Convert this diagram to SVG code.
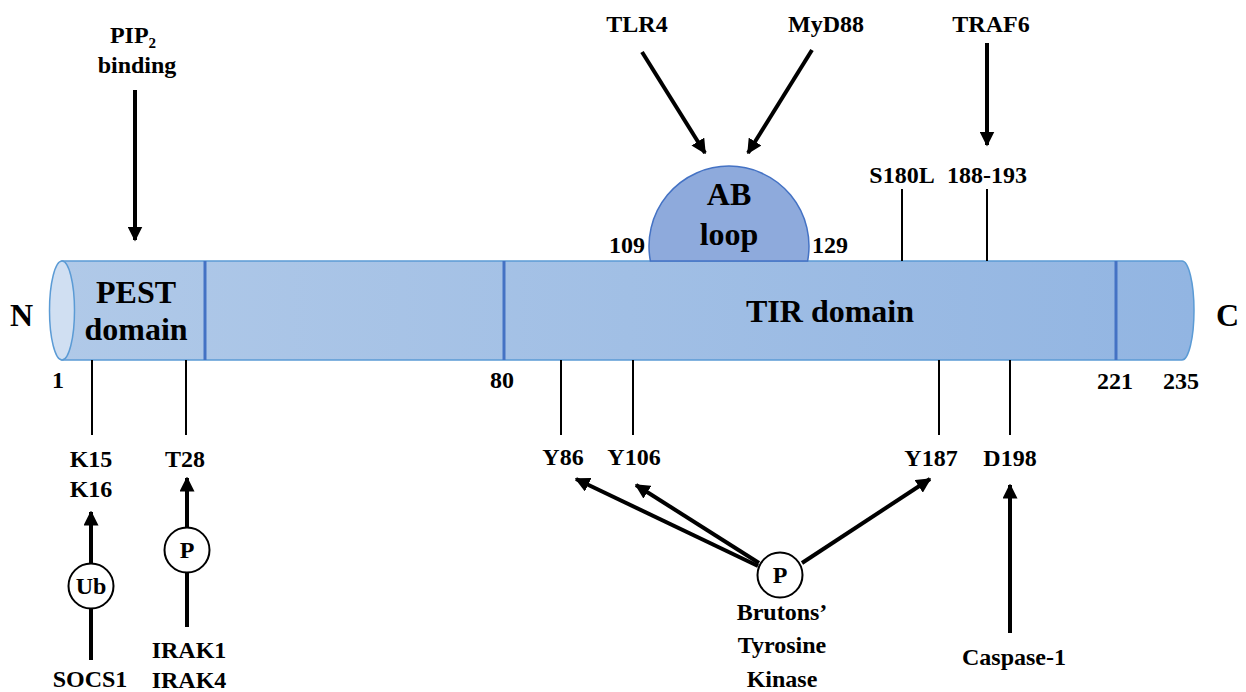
<svg xmlns="http://www.w3.org/2000/svg" width="1246" height="692" viewBox="0 0 1246 692">
  <defs>
    <linearGradient id="bodyFill" x1="0" y1="0" x2="1" y2="0">
      <stop offset="0" stop-color="#b0c9e8"/>
      <stop offset="1" stop-color="#92b5e2"/>
    </linearGradient>
    <marker id="head" viewBox="0 0 10 10" refX="9" refY="5" markerWidth="15" markerHeight="15" markerUnits="userSpaceOnUse" orient="auto">
      <path d="M0,0 L10,5 L0,10 Z" fill="#000"/>
    </marker>
    <style>
      text { font-family: "Liberation Serif", "Times New Roman", serif; font-weight: bold; fill: #000; }
      .big { font-size: 32px; }
      .sm { font-size: 24px; }
      .mid { text-anchor: middle; }
      .tick { stroke: #000; stroke-width: 2; fill: none; }
      .arrow { stroke: #000; stroke-width: 4; fill: none; marker-end: url(#head); }
      .line { stroke: #000; stroke-width: 4; fill: none; }
      .mod { fill: #fff; stroke: #000; stroke-width: 2; }
      .divider { stroke: #4472c4; stroke-width: 3; }
    </style>
  </defs>

  <!-- protein backbone drawn as a cylinder -->
  <g id="protein">
    <path d="M62,261 H1182 A12,49.5 0 0 1 1182,360 H62 Z" fill="url(#bodyFill)" stroke="#5b9bd5" stroke-width="1.5"/>
    <ellipse cx="62" cy="310.5" rx="12.5" ry="49.5" fill="#d0dff2" stroke="#5b9bd5" stroke-width="1.5"/>
    <line class="divider" x1="205" y1="261" x2="205" y2="360"/>
    <line class="divider" x1="504" y1="261" x2="504" y2="360"/>
    <line class="divider" x1="1116" y1="261" x2="1116" y2="360"/>
  </g>

  <!-- AB loop bulge on top of the TIR domain -->
  <g id="ab-loop">
    <path d="M650.4,261 A80,80 0 1 1 807.6,261 Z" fill="#8eaadc" stroke="#4472c4" stroke-width="1.5"/>
    <text class="big mid" x="729" y="205">AB</text>
    <text class="big mid" x="729" y="245">loop</text>
  </g>

  <!-- domain labels and termini -->
  <g id="pest-domain">
    <text class="big mid" x="136" y="303">PEST</text>
    <text class="big mid" x="136" y="340">domain</text>
  </g>
  <g id="tir-domain">
    <text class="big mid" x="830" y="322">TIR domain</text>
  </g>
  <g id="n-terminus"><text class="big" x="10" y="326">N</text></g>
  <g id="c-terminus"><text class="big" x="1216" y="326">C</text></g>

  <!-- residue numbering -->
  <g id="residue-numbers" class="sm">
    <text class="sm mid" x="58" y="388">1</text>
    <text class="sm mid" x="502" y="388">80</text>
    <text class="sm" x="645" y="253" text-anchor="end">109</text>
    <text class="sm" x="812" y="253">129</text>
    <text class="sm mid" x="1115" y="389">221</text>
    <text class="sm mid" x="1181" y="389">235</text>
  </g>

  <!-- residue ticks, interaction arrows and modification arrows -->
  <g id="connectors">
    <line class="tick" x1="902" y1="189" x2="902" y2="261"/>
    <line class="tick" x1="987" y1="189" x2="987" y2="261"/>
    <line class="tick" x1="92" y1="360" x2="92" y2="435"/>
    <line class="tick" x1="186" y1="360" x2="186" y2="435"/>
    <line class="tick" x1="561" y1="360" x2="561" y2="435"/>
    <line class="tick" x1="633" y1="360" x2="633" y2="435"/>
    <line class="tick" x1="939" y1="360" x2="939" y2="435"/>
    <line class="tick" x1="1010" y1="360" x2="1010" y2="435"/>

    <line class="arrow" x1="135" y1="90" x2="135" y2="240"/>
    <line class="arrow" x1="642" y1="52" x2="705" y2="153"/>
    <line class="arrow" x1="812" y1="50" x2="748" y2="153"/>
    <line class="arrow" x1="987" y1="43" x2="987" y2="145"/>

    <line class="line" x1="91" y1="660" x2="91" y2="608"/>
    <line class="arrow" x1="91" y1="563" x2="91" y2="512"/>
    <line class="line" x1="187" y1="627" x2="187" y2="573"/>
    <line class="arrow" x1="187" y1="528" x2="187" y2="478"/>

    <line class="arrow" x1="758" y1="566" x2="576" y2="479"/>
    <line class="arrow" x1="759" y1="563" x2="636" y2="485"/>
    <line class="arrow" x1="802" y1="563" x2="930" y2="479"/>

    <line class="arrow" x1="1010" y1="633" x2="1010" y2="485"/>
  </g>

  <!-- binding partners above the chain -->
  <g id="pip2">
    <text class="sm mid" x="133" y="43">PIP<tspan font-size="15" dy="5">2</tspan></text>
    <text class="sm mid" x="137" y="73">binding</text>
  </g>
  <g id="tlr4"><text class="sm mid" x="637" y="32">TLR4</text></g>
  <g id="myd88"><text class="sm mid" x="826" y="32">MyD88</text></g>
  <g id="traf6"><text class="sm mid" x="991" y="32">TRAF6</text></g>
  <g id="s180l"><text class="sm mid" x="902" y="183">S180L</text></g>
  <g id="site-188-193"><text class="sm mid" x="987" y="183">188-193</text></g>

  <!-- modified residues below the chain -->
  <g id="k15-k16">
    <text class="sm mid" x="91" y="467">K15</text>
    <text class="sm mid" x="91" y="497">K16</text>
  </g>
  <g id="t28"><text class="sm mid" x="185" y="467">T28</text></g>
  <g id="y86"><text class="sm mid" x="563" y="465">Y86</text></g>
  <g id="y106"><text class="sm mid" x="634" y="465">Y106</text></g>
  <g id="y187"><text class="sm mid" x="931" y="466">Y187</text></g>
  <g id="d198"><text class="sm mid" x="1010" y="466">D198</text></g>

  <!-- modifying enzymes -->
  <g id="ub">
    <circle class="mod" cx="91" cy="586" r="22.5"/>
    <text class="sm mid" x="91" y="594">Ub</text>
  </g>
  <g id="socs1"><text class="sm mid" x="90" y="687">SOCS1</text></g>
  <g id="p-irak">
    <circle class="mod" cx="187" cy="550" r="22.5"/>
    <text class="sm mid" x="187" y="558">P</text>
  </g>
  <g id="irak">
    <text class="sm mid" x="189" y="658">IRAK1</text>
    <text class="sm mid" x="189" y="688">IRAK4</text>
  </g>
  <g id="p-btk">
    <circle class="mod" cx="780" cy="575" r="22.5"/>
    <text class="sm mid" x="780" y="583">P</text>
  </g>
  <g id="btk">
    <text class="sm mid" x="782" y="620">Brutons’</text>
    <text class="sm mid" x="782" y="653">Tyrosine</text>
    <text class="sm mid" x="782" y="687">Kinase</text>
  </g>
  <g id="caspase-1"><text class="sm mid" x="1014" y="665">Caspase-1</text></g>
</svg>
